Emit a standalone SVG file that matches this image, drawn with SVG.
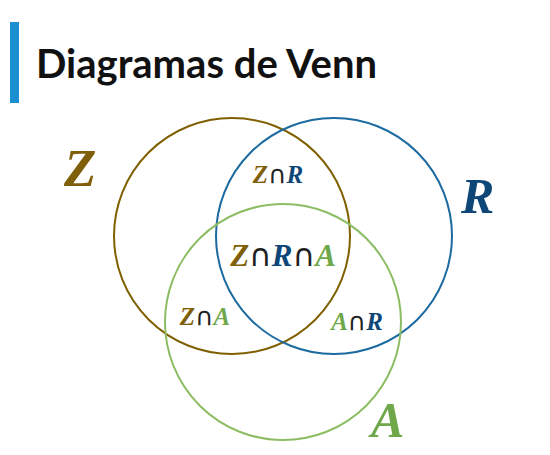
<svg xmlns="http://www.w3.org/2000/svg" width="550" height="455" viewBox="0 0 550 455">
<style>
.t{font-family:"Lato","Liberation Sans",sans-serif;font-weight:bold;font-size:40px;fill:#111}
.m{font-family:"Liberation Serif","DejaVu Serif",serif;font-weight:bold;font-style:italic}
.z{fill:#7f5f0a}.r{fill:#0d4677}.a{fill:#6fa84a}
.c{font-family:"DejaVu Sans","Liberation Sans",sans-serif;font-style:normal;font-weight:normal;fill:#222}
.circ{fill:none;stroke-width:2}
</style>
<rect x="0" y="0" width="550" height="455" fill="#fff"/>
<rect x="10" y="22" width="9" height="81" fill="#1a8fd1"/>
<text class="t" x="36" y="78">Diagramas de Venn</text>
<g id="circles">
<circle id="circleZ" class="circ" cx="232" cy="236" r="118" stroke="#7f6000"/>
<circle id="circleR" class="circ" cx="334" cy="236" r="118" stroke="#1b6aa0"/>
<circle id="circleA" class="circ" cx="283" cy="322" r="118" stroke="#8cbd62"/>
</g>
<g id="labels">
<text class="m z" x="64" y="186" font-size="53">Z</text>
<text class="m r" x="461" y="213" font-size="50">R</text>
<text class="m a" x="371" y="437" font-size="50">A</text>
<text class="m" x="278" y="183" font-size="25" text-anchor="middle"><tspan class="z">Z</tspan><tspan class="c">∩</tspan><tspan class="r">R</tspan></text>
<text class="m" x="283" y="266" font-size="31" text-anchor="middle"><tspan class="z">Z</tspan><tspan class="c">∩</tspan><tspan class="r">R</tspan><tspan class="c">∩</tspan><tspan class="a">A</tspan></text>
<text class="m" x="205" y="325" font-size="25" text-anchor="middle"><tspan class="z">Z</tspan><tspan class="c">∩</tspan><tspan class="a">A</tspan></text>
<text class="m" x="357" y="330" font-size="25" text-anchor="middle"><tspan class="a">A</tspan><tspan class="c">∩</tspan><tspan class="r">R</tspan></text>
</g>
</svg>
